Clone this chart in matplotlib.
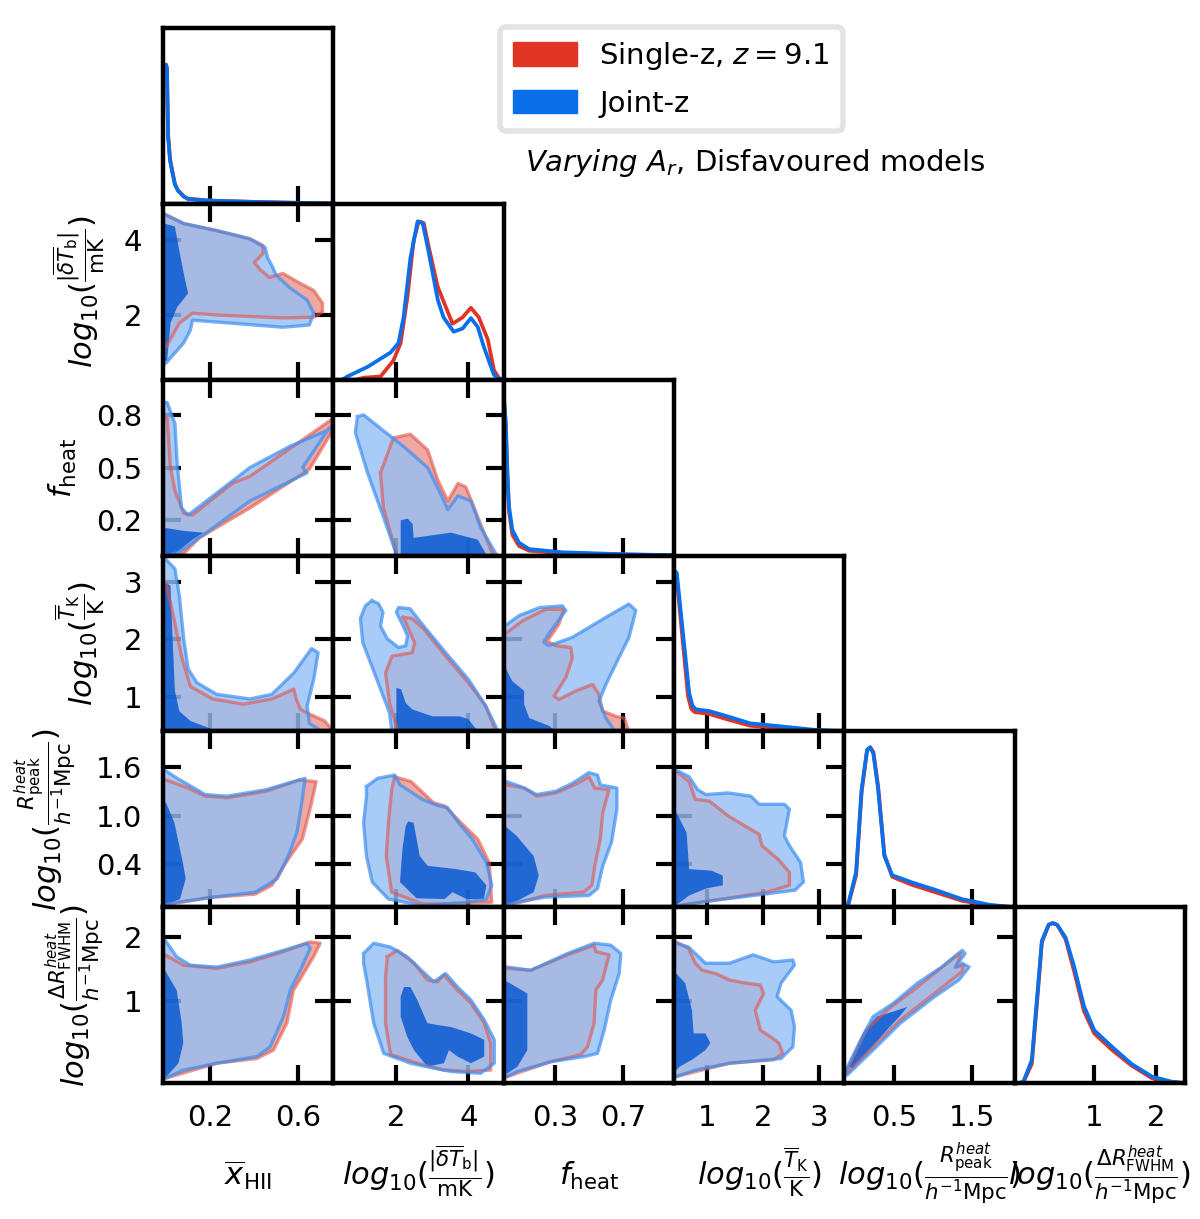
import numpy as np
import matplotlib
matplotlib.use('Agg')
import matplotlib.pyplot as plt
from matplotlib.patches import Patch

plt.rcParams['font.family'] = 'DejaVu Sans'
plt.rcParams['mathtext.fontset'] = 'dejavusans'

# ---------------- parameters / axes ----------------
param_labels = [r'$\overline{x}_{\rm HII}$',
                r'$log_{10}(\frac{|\overline{\delta T}_{\rm b}|}{\rm mK})$',
                r'$f_{\rm heat}$',
                r'$log_{10}(\frac{\overline{T}_{\rm K}}{\rm K})$',
                r'$log_{10}(\frac{R^{heat}_{\rm peak}}{h^{-1}{\rm Mpc}})$',
                r'$log_{10}(\frac{\Delta R^{heat}_{\rm FWHM}}{h^{-1}{\rm Mpc}})$']
limits = [(-0.014, 0.759), (0.25, 4.98), (0.0, 1.0), (0.41, 3.45), (-0.13, 2.04), (-0.27, 2.46)]
x_ticks = [[0.2, 0.6], [2, 4], [0.3, 0.7], [1, 2, 3], [0.5, 1.5], [1, 2]]
x_ticklabels = [['0.2', '0.6'], ['2', '4'], ['0.3', '0.7'], ['1', '2', '3'], ['0.5', '1.5'], ['1', '2']]
y_ticks = [[], [2, 4], [0.2, 0.5, 0.8], [1, 2, 3], [0.4, 1.0, 1.6], [1, 2]]
y_ticklabels = [[], ['2', '4'], ['0.2', '0.5', '0.8'], ['1', '2', '3'], ['0.4', '1.0', '1.6'], ['1', '2']]

legend_labels = ['Single-z, $z=9.1$', 'Joint-z']
title_text = r'$Varying\ A_r$, Disfavoured models'

# ---------------- 1D marginals (diagonal) ----------------
d0_x = [0.0, 0.004, 0.009, 0.018, 0.027, 0.04, 0.054, 0.08, 0.10, 0.2, 0.4, 0.6, 0.76]
d0_blue = [0.87, 0.84, 0.42, 0.27, 0.207, 0.12, 0.082, 0.045, 0.03, 0.02, 0.012, 0.006, 0.002]
d0_red = [0.87, 0.85, 0.44, 0.28, 0.215, 0.125, 0.085, 0.048, 0.032, 0.02, 0.012, 0.006, 0.002]

d1_blue_x = [0.5, 0.64, 1.20, 1.84, 2.06, 2.20, 2.39, 2.59, 2.73, 2.87, 3.15, 3.31, 3.59, 3.84, 4.07, 4.26, 4.43, 4.71, 4.83, 4.95]
d1_blue = [0.0, 0.02, 0.08, 0.17, 0.23, 0.39, 0.76, 0.99, 0.98, 0.83, 0.50, 0.39, 0.30, 0.32, 0.385, 0.33, 0.205, 0.03, 0.01, 0.0]
d1_red_x = [0.9, 1.09, 1.56, 1.92, 2.12, 2.31, 2.48, 2.62, 2.76, 2.90, 3.15, 3.56, 3.84, 4.07, 4.29, 4.54, 4.71, 4.85, 4.95]
d1_red = [0.0, 0.012, 0.02, 0.12, 0.23, 0.52, 0.87, 0.99, 0.98, 0.83, 0.58, 0.35, 0.39, 0.45, 0.39, 0.25, 0.06, 0.01, 0.0]

d2_x = [0.0, 0.012, 0.022, 0.031, 0.051, 0.09, 0.149, 0.345, 0.70, 0.99]
d2_blue = [1.0, 0.84, 0.52, 0.31, 0.16, 0.08, 0.04, 0.02, 0.008, 0.002]
d2_red = [1.0, 0.82, 0.49, 0.28, 0.13, 0.06, 0.03, 0.015, 0.006, 0.001]

d3_blue_x = [0.43, 0.46, 0.68, 0.74, 0.80, 1.05, 1.36, 1.77, 2.32, 2.9, 3.45]
d3_blue = [1.0, 0.99, 0.24, 0.16, 0.138, 0.126, 0.094, 0.05, 0.031, 0.01, 0.0]
d3_red_x = [0.43, 0.45, 0.66, 0.72, 0.78, 1.03, 1.36, 1.77, 2.32, 2.9, 3.45]
d3_red = [1.0, 0.99, 0.22, 0.14, 0.12, 0.11, 0.075, 0.035, 0.02, 0.005, 0.0]

d4_x = [-0.13, -0.08, 0.02, 0.09, 0.16, 0.20, 0.24, 0.30, 0.38, 0.48, 0.73, 1.02, 1.37, 1.72, 2.01]
d4_blue = [0.0, 0.02, 0.22, 0.735, 0.985, 1.0, 0.96, 0.74, 0.32, 0.20, 0.155, 0.11, 0.05, 0.015, 0.0]
d4_red = [0.0, 0.015, 0.20, 0.72, 0.98, 1.0, 0.97, 0.76, 0.33, 0.19, 0.14, 0.095, 0.04, 0.01, 0.0]

d5_x = [-0.2, -0.13, 0.005, 0.086, 0.166, 0.276, 0.34, 0.41, 0.546, 0.682, 0.841, 1.006, 1.28, 1.60, 1.93, 2.25, 2.45]
d5_blue = [0.0, 0.008, 0.144, 0.52, 0.89, 0.99, 1.0, 0.99, 0.91, 0.73, 0.48, 0.33, 0.23, 0.12, 0.04, 0.008, 0.0]
d5_red = [0.0, 0.005, 0.12, 0.49, 0.88, 0.99, 1.0, 0.99, 0.90, 0.70, 0.45, 0.31, 0.21, 0.11, 0.03, 0.005, 0.0]

# ---------------- 2D contours (outer 95% red/blue, inner 68% blue) ----------------
c10_red = ([-0.02, 0.08, 0.23, 0.38, 0.44, 0.44, 0.40, 0.43, 0.47, 0.53, 0.60, 0.67, 0.71, 0.71, 0.67, 0.53, 0.23, 0.12, 0.06, 0.00, -0.02],
           [4.74, 4.45, 4.26, 4.04, 3.86, 3.64, 3.40, 3.19, 3.00, 3.11, 2.87, 2.65, 2.31, 2.07, 1.93, 1.91, 1.99, 2.04, 1.77, 1.13, 1.05])
c10_blue = ([-0.02, 0.08, 0.23, 0.38, 0.45, 0.46, 0.48, 0.50, 0.56, 0.64, 0.67, 0.65, 0.53, 0.23, 0.12, 0.11, 0.08, 0.00, -0.02],
            [4.74, 4.45, 4.26, 4.04, 3.80, 3.54, 3.32, 3.06, 2.73, 2.39, 2.04, 1.72, 1.66, 1.80, 1.85, 1.58, 1.24, 0.70, 0.62])
c10_core = ([-0.02, 0.04, 0.06, 0.08, 0.10, 0.05, 0.02, 0.005, -0.02],
            [4.47, 4.37, 3.72, 3.11, 2.57, 2.20, 1.77, 0.78, 0.65])

c20_red = ([-0.02, 0.005, 0.02, 0.04, 0.08, 0.12, 0.30, 0.38, 0.53, 0.77, 0.77, 0.65, 0.38, 0.15, 0.08, -0.02],
           [0.78, 0.78, 0.50, 0.37, 0.24, 0.23, 0.41, 0.45, 0.58, 0.79, 0.74, 0.49, 0.27, 0.10, 0.01, -0.01])
c20_blue = ([-0.02, 0.005, 0.04, 0.05, 0.07, 0.10, 0.38, 0.56, 0.73, 0.745, 0.71, 0.62, 0.64, 0.38, 0.15, 0.06, -0.02],
            [0.87, 0.87, 0.75, 0.53, 0.27, 0.23, 0.50, 0.62, 0.71, 0.73, 0.67, 0.50, 0.47, 0.31, 0.10, 0.02, -0.01])
c20_core = ([-0.02, 0.08, 0.17, 0.12, 0.08, 0.02, -0.02],
            [0.16, 0.14, 0.13, 0.09, 0.05, -0.01, -0.01])

c21_red = ([1.56, 1.92, 2.39, 2.87, 3.15, 3.43, 3.71, 3.93, 4.26, 4.71, 2.03, 1.64],
           [0.47, 0.67, 0.69, 0.60, 0.43, 0.31, 0.41, 0.39, 0.22, -0.01, -0.01, 0.27])
c21_blue = ([0.92, 1.09, 1.64, 2.20, 2.87, 3.23, 3.43, 3.71, 4.07, 4.34, 4.82, 2.03, 1.64, 1.20, 0.86],
            [0.79, 0.80, 0.71, 0.62, 0.50, 0.35, 0.26, 0.34, 0.31, 0.16, -0.01, -0.01, 0.22, 0.47, 0.70])
c21_core = ([2.12, 2.31, 2.45, 2.48, 3.51, 4.26, 4.54, 2.12],
            [0.20, 0.21, 0.18, 0.10, 0.13, 0.09, -0.01, -0.01])

c30_red = ([-0.02, 0.0, 0.03, 0.07, 0.11, 0.21, 0.35, 0.48, 0.58, 0.59, 0.61, 0.65, 0.72, 0.75, 0.75, -0.02],
           [2.96, 2.96, 2.46, 1.71, 1.19, 0.97, 0.88, 0.97, 1.14, 0.97, 0.79, 0.71, 0.59, 0.45, 0.38, 0.38])
c30_blue = ([-0.02, 0.0, 0.04, 0.06, 0.08, 0.10, 0.14, 0.23, 0.38, 0.48, 0.58, 0.66, 0.69, 0.67, 0.64, 0.65, 0.69, 0.69, -0.02],
            [3.5, 3.38, 3.22, 2.76, 2.01, 1.49, 1.25, 1.05, 0.97, 1.05, 1.42, 1.84, 1.77, 1.31, 0.85, 0.55, 0.45, 0.38, 0.38])
c30_core = ([-0.02, 0.02, 0.03, 0.04, 0.06, 0.11, 0.20, 0.20, -0.02],
            [3.02, 2.93, 1.97, 1.11, 0.76, 0.59, 0.46, 0.38, 0.38])

c31_red = ([2.19, 2.44, 2.76, 3.37, 4.00, 4.48, 4.78, 2.06, 1.81, 1.70, 1.88, 2.44, 2.51, 2.38, 2.26],
           [2.38, 2.36, 2.18, 1.71, 1.25, 0.85, 0.38, 0.38, 0.90, 1.42, 1.71, 1.77, 1.94, 2.12, 2.29])
c31_blue = ([1.32, 1.50, 1.63, 1.56, 1.75, 2.06, 2.26, 2.31, 2.19, 2.00, 2.06, 2.38, 2.76, 3.37, 4.00, 4.48, 4.85, 1.88, 1.81, 1.39, 1.07, 1.00, 1.14],
            [2.67, 2.62, 2.47, 2.23, 2.01, 1.86, 1.89, 2.06, 2.23, 2.47, 2.55, 2.53, 2.23, 1.77, 1.31, 0.85, 0.38, 0.38, 0.73, 1.42, 1.94, 2.36, 2.58])
c31_core = ([2.0, 2.13, 2.26, 2.44, 3.0, 3.75, 4.0, 4.3, 2.0],
            [1.16, 1.14, 0.90, 0.79, 0.67, 0.67, 0.62, 0.38, 0.38])

c32_red = ([-0.02, 0.02, 0.11, 0.247, 0.353, 0.324, 0.257, 0.306, 0.394, 0.404, 0.365, 0.296, 0.324, 0.424, 0.522, 0.559, 0.581, 0.659, 0.708, 0.728, 0.73, -0.02],
           [2.1, 2.12, 2.32, 2.52, 2.52, 2.26, 1.97, 1.89, 1.86, 1.68, 1.34, 1.02, 0.96, 1.11, 1.22, 1.05, 0.76, 0.67, 0.64, 0.47, 0.38, 0.38])
c32_blue = ([-0.02, 0.02, 0.09, 0.21, 0.345, 0.365, 0.32, 0.265, 0.235, 0.265, 0.40, 0.60, 0.735, 0.776, 0.735, 0.676, 0.60, 0.56, 0.60, 0.64, 0.65, -0.02],
            [2.2, 2.26, 2.41, 2.55, 2.58, 2.50, 2.32, 2.10, 1.95, 1.89, 2.03, 2.38, 2.61, 2.50, 2.03, 1.68, 1.22, 0.93, 0.64, 0.47, 0.38, 0.38])
c32_core = ([-0.02, 0.0, 0.05, 0.12, 0.12, 0.15, 0.27, 0.31, -0.02],
            [1.6, 1.57, 1.28, 1.11, 0.88, 0.64, 0.50, 0.38, 0.38])

c40_red = ([-0.02, 0.0, 0.10, 0.177, 0.277, 0.454, 0.604, 0.681, 0.657, 0.618, 0.554, 0.48, 0.404, 0.202, 0.0, -0.02],
           [1.45, 1.44, 1.34, 1.24, 1.22, 1.30, 1.44, 1.42, 1.12, 0.71, 0.46, 0.14, 0.03, -0.01, -0.10, -0.14])
c40_blue = ([-0.02, 0.0, 0.05, 0.127, 0.177, 0.277, 0.454, 0.554, 0.631, 0.618, 0.594, 0.554, 0.504, 0.404, 0.202, 0.05, 0.0, -0.02],
            [1.56, 1.55, 1.46, 1.34, 1.26, 1.24, 1.32, 1.40, 1.46, 1.20, 0.79, 0.50, 0.22, 0.055, -0.01, -0.07, -0.10, -0.14])
c40_core = ([-0.02, 0.0, 0.038, 0.076, 0.089, 0.063, 0.0, -0.02],
            [1.17, 1.16, 0.91, 0.42, 0.22, -0.03, -0.10, -0.14])

c41_red = ([1.95, 2.41, 3.03, 3.34, 3.80, 4.26, 4.58, 4.65, 3.65, 2.72, 1.87, 1.72, 1.78, 1.87],
           [1.48, 1.42, 1.16, 1.12, 0.91, 0.71, 0.42, -0.07, -0.09, -0.09, 0.055, 0.50, 0.91, 1.32])
c41_blue = ([1.17, 1.48, 1.95, 2.10, 2.72, 3.17, 3.42, 3.73, 4.11, 4.50, 4.65, 4.50, 3.95, 2.72, 1.78, 1.33, 1.17, 1.09, 1.17],
            [1.36, 1.46, 1.50, 1.38, 1.20, 1.12, 1.10, 0.91, 0.71, 0.42, 0.14, -0.03, -0.07, -0.11, -0.03, 0.18, 0.50, 0.91, 1.24])
c41_core = ([2.33, 2.48, 2.65, 2.87, 3.65, 4.19, 4.50, 4.43, 3.95, 3.56, 3.34, 2.56, 2.10, 2.17, 2.26],
            [0.93, 0.91, 0.50, 0.38, 0.34, 0.30, 0.14, -0.03, -0.03, 0.055, -0.03, -0.02, 0.18, 0.59, 0.87])

c42_red = ([-0.02, 0.016, 0.124, 0.194, 0.306, 0.435, 0.50, 0.535, 0.618, 0.582, 0.567, 0.535, 0.518, 0.471, 0.241, 0.045, -0.02],
           [1.39, 1.38, 1.34, 1.24, 1.28, 1.40, 1.48, 1.34, 1.32, 1.04, 0.71, 0.38, 0.14, 0.055, 0.014, -0.10, -0.14])
c42_blue = ([-0.02, 0.016, 0.098, 0.194, 0.306, 0.404, 0.50, 0.551, 0.567, 0.665, 0.665, 0.633, 0.582, 0.551, 0.50, 0.241, 0.076, 0.028, -0.02],
            [1.43, 1.42, 1.36, 1.26, 1.30, 1.40, 1.53, 1.50, 1.38, 1.34, 1.08, 0.67, 0.38, 0.10, 0.014, -0.007, -0.07, -0.10, -0.14])
c42_core = ([-0.02, 0.01, 0.076, 0.176, 0.206, 0.176, 0.045, -0.02],
            [0.88, 0.87, 0.75, 0.50, 0.26, 0.055, -0.09, -0.14])

c43_red = ([0.38, 0.48, 0.68, 0.79, 1.04, 1.38, 1.68, 1.93, 1.98, 2.27, 2.47, 2.47, 2.07, 1.08, 0.59, 0.38],
           [1.54, 1.53, 1.42, 1.20, 1.18, 0.995, 0.87, 0.77, 0.63, 0.46, 0.30, 0.14, 0.055, -0.05, -0.10, -0.14])
c43_blue = ([0.38, 0.48, 0.68, 0.83, 0.98, 1.38, 1.78, 1.93, 2.38, 2.47, 2.38, 2.47, 2.67, 2.72, 2.57, 2.07, 1.08, 0.59, 0.38],
            [1.57, 1.55, 1.48, 1.32, 1.26, 1.28, 1.24, 1.14, 1.14, 1.08, 0.75, 0.63, 0.42, 0.18, 0.08, 0.035, -0.05, -0.10, -0.14])
c43_core = ([0.38, 0.435, 0.635, 0.68, 1.08, 1.28, 1.28, 0.98, 0.68, 0.48, 0.38],
            [1.07, 1.06, 0.79, 0.34, 0.32, 0.26, 0.14, 0.10, 0.014, -0.09, -0.14])

c50_red = ([-0.02, -0.005, 0.078, 0.23, 0.381, 0.533, 0.654, 0.70, 0.669, 0.578, 0.548, 0.487, 0.412, 0.23, -0.005, -0.02],
           [1.73, 1.72, 1.56, 1.51, 1.61, 1.77, 1.92, 1.90, 1.69, 1.17, 0.66, 0.24, 0.11, 0.037, -0.20, -0.21])
c50_blue = ([-0.02, -0.005, 0.048, 0.109, 0.23, 0.381, 0.533, 0.639, 0.654, 0.616, 0.563, 0.533, 0.472, 0.412, 0.23, 0.078, -0.005, -0.02],
            [1.96, 1.95, 1.69, 1.56, 1.53, 1.64, 1.79, 1.90, 1.82, 1.53, 1.17, 0.76, 0.29, 0.14, 0.037, -0.07, -0.20, -0.21])
c50_core = ([-0.02, -0.005, 0.048, 0.071, 0.078, 0.056, -0.005, -0.02],
            [1.49, 1.48, 1.17, 0.66, 0.35, 0.037, -0.20, -0.21])

c51_red = ([1.75, 2.02, 2.49, 2.86, 3.14, 3.32, 3.70, 4.07, 4.44, 4.62, 4.62, 3.97, 3.32, 2.58, 1.84, 1.70, 1.70],
           [1.69, 1.79, 1.59, 1.33, 1.30, 1.41, 1.17, 0.97, 0.66, 0.35, -0.07, -0.09, -0.07, 0.037, 0.17, 0.66, 1.38])
c51_blue = ([1.09, 1.37, 1.84, 2.30, 3.04, 3.37, 3.70, 4.07, 4.44, 4.72, 4.72, 4.34, 3.51, 3.04, 2.39, 1.65, 1.37, 1.19, 1.09],
            [1.74, 1.90, 1.84, 1.69, 1.30, 1.43, 1.22, 1.02, 0.71, 0.40, 0.037, -0.12, -0.09, -0.04, 0.037, 0.19, 0.66, 1.28, 1.59])
c51_core = ([2.21, 2.39, 2.58, 2.86, 3.14, 3.51, 4.07, 4.44, 4.44, 4.07, 3.70, 3.46, 3.32, 2.86, 2.49, 2.30, 2.12, 2.12],
            [1.22, 1.22, 1.02, 0.66, 0.63, 0.60, 0.50, 0.40, 0.14, 0.037, 0.14, 0.24, 0.037, -0.016, 0.24, 0.45, 0.76, 1.07])

c52_red = ([-0.02, 0.022, 0.159, 0.375, 0.531, 0.541, 0.619, 0.581, 0.541, 0.531, 0.492, 0.453, 0.276, 0.022, -0.02],
           [1.51, 1.51, 1.48, 1.72, 1.87, 1.77, 1.72, 1.33, 1.17, 0.66, 0.29, 0.17, 0.06, -0.17, -0.2])
c52_blue = ([-0.02, 0.022, 0.159, 0.375, 0.531, 0.629, 0.688, 0.678, 0.629, 0.59, 0.551, 0.472, 0.276, 0.081, 0.022, -0.02],
            [1.53, 1.53, 1.48, 1.74, 1.90, 1.87, 1.74, 1.43, 1.02, 0.55, 0.19, 0.14, 0.06, -0.09, -0.17, -0.2])
c52_core = ([-0.02, 0.022, 0.139, 0.139, 0.139, 0.081, 0.022, -0.02],
            [1.31, 1.30, 1.12, 0.66, 0.24, -0.016, -0.12, -0.2])

c53_red = ([0.38, 0.45, 0.67, 0.79, 0.91, 1.15, 1.40, 1.70, 1.95, 2.01, 1.86, 1.95, 2.13, 2.28, 2.35, 2.19, 1.40, 0.45, 0.38],
           [1.93, 1.92, 1.82, 1.59, 1.48, 1.43, 1.33, 1.28, 1.25, 1.12, 0.86, 0.55, 0.45, 0.35, 0.19, 0.09, 0.037, -0.17, -0.2])
c53_blue = ([0.38, 0.45, 0.67, 0.85, 0.97, 1.40, 1.82, 2.19, 2.53, 2.56, 2.32, 2.25, 2.50, 2.56, 2.53, 2.32, 1.40, 0.79, 0.45, 0.38],
            [1.91, 1.90, 1.84, 1.69, 1.59, 1.59, 1.72, 1.61, 1.64, 1.56, 1.28, 1.07, 0.86, 0.60, 0.29, 0.11, 0.037, -0.07, -0.17, -0.2])
c53_core = ([0.38, 0.45, 0.61, 0.73, 0.76, 0.97, 1.06, 0.97, 0.73, 0.51, 0.45, 0.38],
            [1.44, 1.43, 1.28, 0.86, 0.50, 0.50, 0.35, 0.24, 0.09, -0.016, -0.07, -0.2])

c54_red = ([-0.098, 0.148, 0.41, 0.80, 1.28, 1.35, 1.30, 1.39, 1.37, 1.02, 0.585, 0.235, -0.098],
           [-0.07, 0.55, 0.86, 1.22, 1.69, 1.74, 1.53, 1.56, 1.46, 1.12, 0.71, 0.29, -0.12])
c54_blue = ([-0.098, 0.06, 0.235, 0.496, 0.80, 1.11, 1.37, 1.41, 1.28, 1.37, 1.46, 1.33, 1.02, 0.585, 0.235, -0.028, -0.098],
            [-0.04, 0.35, 0.76, 0.97, 1.28, 1.53, 1.79, 1.74, 1.53, 1.59, 1.53, 1.33, 1.07, 0.66, 0.24, -0.07, -0.15])
c54_core = ([-0.076, 0.105, 0.279, 0.496, 0.67, 0.585, 0.41, 0.19, -0.028],
            [-0.016, 0.50, 0.76, 0.84, 0.91, 0.78, 0.55, 0.24, -0.04])

diag_curves = {
    0: ((d0_x, d0_red), (d0_x, d0_blue)),
    1: ((d1_red_x, d1_red), (d1_blue_x, d1_blue)),
    2: ((d2_x, d2_red), (d2_x, d2_blue)),
    3: ((d3_red_x, d3_red), (d3_blue_x, d3_blue)),
    4: ((d4_x, d4_red), (d4_x, d4_blue)),
    5: ((d5_x, d5_red), (d5_x, d5_blue)),
}
contours = {
    (1, 0): (c10_red, c10_blue, c10_core),
    (2, 0): (c20_red, c20_blue, c20_core),
    (2, 1): (c21_red, c21_blue, c21_core),
    (3, 0): (c30_red, c30_blue, c30_core),
    (3, 1): (c31_red, c31_blue, c31_core),
    (3, 2): (c32_red, c32_blue, c32_core),
    (4, 0): (c40_red, c40_blue, c40_core),
    (4, 1): (c41_red, c41_blue, c41_core),
    (4, 2): (c42_red, c42_blue, c42_core),
    (4, 3): (c43_red, c43_blue, c43_core),
    (5, 0): (c50_red, c50_blue, c50_core),
    (5, 1): (c51_red, c51_blue, c51_core),
    (5, 2): (c52_red, c52_blue, c52_core),
    (5, 3): (c53_red, c53_blue, c53_core),
    (5, 4): (c54_red, c54_blue, c54_core),
}

# ---------------- styling ----------------
RED = '#e03424'
BLUE = '#0a6fe8'
RED_FILL = '#efa9a2'
BLUE_FILL = (0.58, 0.75, 0.96)
BLUE_CORE = (0.0, 0.33, 0.82)
RED_LINE = '#e0544a'
BLUE_LINE = '#3d8ef0'

W, H = 1200, 1219
fig = plt.figure(figsize=(12, 12.19), dpi=100)
gl, gr, gt, gb = 163, 1185, 28, 1083
n = 6
pw = (gr - gl) / n
ph = (gb - gt) / n

def closed(c):
    return list(c[0]) + [c[0][0]], list(c[1]) + [c[1][0]]

for i in range(n):
    for j in range(i + 1):
        ax = fig.add_axes([(gl + j * pw) / W, 1 - (gt + (i + 1) * ph) / H, pw / W, ph / H])
        for s in ax.spines.values():
            s.set_linewidth(3.2)
            s.set_zorder(10)
        ax.set_xlim(*limits[j])
        ax.set_xticks(x_ticks[j])
        ax.set_xticklabels(x_ticklabels[j] if i == n - 1 else [])
        if i == j:
            rc, bc = diag_curves[i]
            ax.plot(rc[0], rc[1], color=RED, lw=2.7, solid_joinstyle='round', solid_capstyle='round')
            ax.plot(bc[0], bc[1], color=BLUE, lw=2.7, solid_joinstyle='round', solid_capstyle='round')
            ax.set_ylim(0, 1.1)
            ax.set_yticks([])
            ax.tick_params(axis='x', direction='in', length=13, width=3.0, top=False, bottom=True,
                           labelsize=21, pad=15)
        else:
            red, blue, core = contours[(i, j)]
            ax.fill(red[0], red[1], color=RED_FILL, lw=0, zorder=1)
            ax.fill(blue[0], blue[1], color=BLUE_FILL, alpha=0.8, lw=0, zorder=2)
            ax.fill(core[0], core[1], color=BLUE_CORE, alpha=0.8, lw=0, zorder=3)
            rx, ry = closed(red)
            bx, by = closed(blue)
            ax.plot(rx, ry, color=RED_LINE, alpha=0.6, lw=2.4, zorder=4, solid_joinstyle='round')
            ax.plot(bx, by, color=BLUE_LINE, alpha=0.7, lw=2.4, zorder=5, solid_joinstyle='round')
            ax.set_ylim(*limits[i])
            ax.set_yticks(y_ticks[i])
            ax.set_yticklabels(y_ticklabels[i] if j == 0 else [])
            ax.tick_params(direction='in', length=13, width=3.0, top=True, right=True,
                           bottom=True, left=True, labelsize=21, pad=15)
        if i == n - 1:
            ax.set_xlabel(param_labels[j], fontsize=22, va='baseline')
            ax.xaxis.set_label_coords(0.5, -0.58)
        if j == 0 and i > 0:
            ax.set_ylabel(param_labels[i], fontsize=22, labelpad=12)

handles = [Patch(facecolor=RED, edgecolor=RED), Patch(facecolor=BLUE, edgecolor=BLUE)]
leg = fig.legend(handles, legend_labels, loc='upper left', bbox_to_anchor=(500 / W, 1 - 27 / H),
                 fontsize=21, frameon=True, fancybox=True, edgecolor='#dddddd',
                 handlelength=2.2, handleheight=0.85, handletextpad=0.75, labelspacing=0.6,
                 borderpad=0.45, borderaxespad=0)
leg.get_frame().set_linewidth(4)
fig.text(755 / W, 1 - 163 / H, title_text, ha='center', va='center', fontsize=21)

fig.savefig('out.png', dpi=100)
